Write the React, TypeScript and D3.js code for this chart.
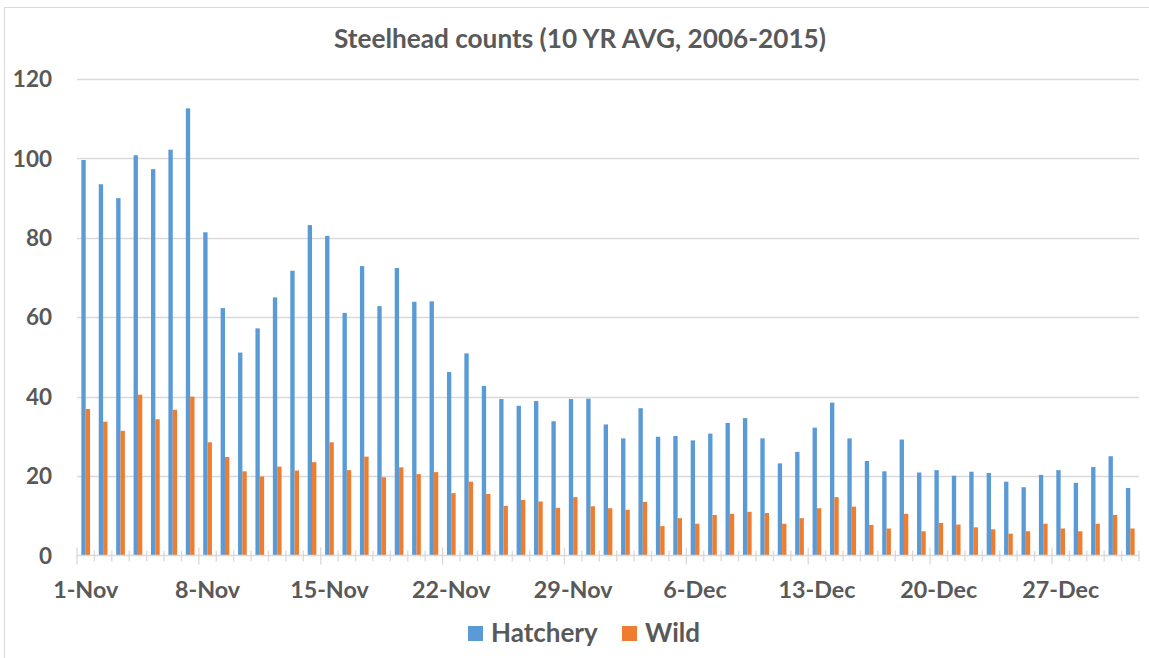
import React from "react";
import * as d3 from "d3";

const MONTHS = ["Nov", "Dec"];
const DAYS_IN = [30, 31];
const categories: string[] = MONTHS.flatMap((m, i) =>
  d3.range(1, DAYS_IN[i] + 1).map((d) => `${d}-${m}`)
);

const hatchery = [
  99.6, 93.5, 90.0, 100.8, 97.3, 102.2, 112.6, 81.4, 62.3, 51.1,
  57.2, 65.0, 71.7, 83.2, 80.5, 61.1, 72.9, 62.8, 72.4, 63.9,
  64.0, 46.2, 50.9, 42.7, 39.4, 37.7, 38.9, 33.8, 39.4, 39.5,
  33.0, 29.5, 37.1, 29.9, 30.1, 29.0, 30.7, 33.4, 34.6, 29.5,
  23.2, 26.1, 32.2, 38.5, 29.5, 23.8, 21.2, 29.2, 20.9, 21.5,
  20.1, 21.1, 20.8, 18.6, 17.2, 20.3, 21.5, 18.3, 22.3, 25.0, 17.0,
];

const wild = [
  36.9, 33.7, 31.4, 40.5, 34.3, 36.7, 40.0, 28.5, 24.8, 21.2,
  19.9, 22.4, 21.4, 23.5, 28.5, 21.5, 24.9, 19.7, 22.2, 20.5,
  21.0, 15.7, 18.6, 15.5, 12.5, 14.0, 13.6, 12.0, 14.7, 12.4,
  11.9, 11.5, 13.5, 7.4, 9.4, 8.0, 10.2, 10.5, 11.0, 10.7,
  8.0, 9.4, 11.9, 14.7, 12.3, 7.7, 6.8, 10.5, 6.1, 8.2,
  7.8, 7.1, 6.6, 5.5, 6.1, 8.0, 6.8, 6.1, 8.0, 10.2, 6.8,
];

const yTicks = [0, 20, 40, 60, 80, 100, 120];
const seriesNames = ["Hatchery", "Wild"];
const title = "Steelhead counts (10 YR AVG, 2006-2015)";

const COLORS = ["#5B9BD5", "#ED7D31"];
const W = 1149;
const H = 658;
const FONT = "Lato, 'Open Sans', sans-serif";
const TEXT = "#595959";
const GRID = "#D9D9D9";

export default function App() {
  const left = 77;
  const right = 1139;
  const top = 79;
  const bottom = 555.5;

  const x = d3
    .scaleBand<number>()
    .domain(d3.range(categories.length))
    .range([left, right])
    .paddingInner(0)
    .paddingOuter(0);
  const y = d3.scaleLinear().domain([0, 120]).range([bottom, top]);
  const bw = x.bandwidth();
  const barW = bw / 4;
  const series = [hatchery, wild];

  const boundaries = d3.range(categories.length + 1);

  return (
    <svg
      width={W}
      height={H}
      style={{ position: "absolute", left: 0, top: 0, background: "#fff" }}
      fontFamily={FONT}
    >
      <rect x={0} y={0} width={W} height={H} fill="#fff" />
      {/* chart border */}
      <line x1={4.5} x2={W + 5} y1={7.5} y2={7.5} stroke={GRID} strokeWidth={1} />
      <line x1={4.5} x2={4.5} y1={7.5} y2={H + 5} stroke={GRID} strokeWidth={1} />

      {/* title */}
      <text
        x={580}
        y={48}
        textAnchor="middle"
        fontSize={26.2}
        fontWeight={700}
        fill={TEXT}
      >
        {title}
      </text>

      {/* gridlines & y labels */}
      {yTicks.map((t) => (
        <g key={t}>
          {t !== 0 && (
            <line
              x1={left}
              x2={right}
              y1={Math.round(y(t)) + 0.5}
              y2={Math.round(y(t)) + 0.5}
              stroke={GRID}
              strokeWidth={1.3}
            />
          )}
          <text
            x={52}
            y={y(t)}
            dy="0.36em"
            textAnchor="end"
            fontSize={22.5}
            fontWeight={700}
            fill={TEXT}
          >
            {t}
          </text>
        </g>
      ))}

      {/* bars */}
      {series.map((vals, si) =>
        vals.map((v, i) => (
          <rect
            key={`${si}-${i}`}
            x={(x(i) as number) + barW * (1 + si)}
            y={y(v)}
            width={barW}
            height={bottom - y(v)}
            fill={COLORS[si]}
          />
        ))
      )}

      {/* axis line */}
      <line x1={left} x2={right} y1={bottom} y2={bottom} stroke={GRID} strokeWidth={1.3} />
      {boundaries.map((b) => {
        const bx = left + b * bw;
        const major = b % 7 === 0;
        return (
          <line
            key={b}
            x1={bx}
            x2={bx}
            y1={major ? bottom - 8 : bottom - 5}
            y2={major ? bottom + 9 : bottom + 6}
            stroke={GRID}
            strokeWidth={1.3}
          />
        );
      })}

      {/* x labels */}
      {categories.map((c, i) =>
        i % 7 === 0 ? (
          <text
            key={c}
            x={(x(i) as number) + bw / 2}
            y={598}
            textAnchor="middle"
            fontSize={23.3}
            fontWeight={700}
            fill={TEXT}
          >
            {c}
          </text>
        ) : null
      )}

      {/* legend */}
      {seriesNames.map((n, i) => {
        const lx = [468, 622][i];
        return (
          <g key={n}>
            <rect x={lx} y={626} width={15} height={15} fill={COLORS[i]} />
            <text
              x={lx + 23}
              y={642}
              fontSize={26}
              fontWeight={700}
              fill={TEXT}
            >
              {n}
            </text>
          </g>
        );
      })}
    </svg>
  );
}
